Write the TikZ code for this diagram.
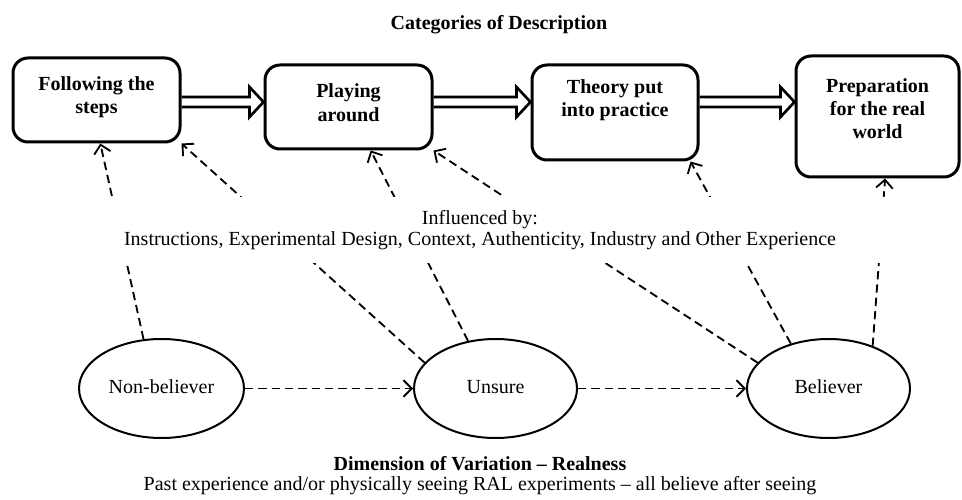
\documentclass[tikz,border=0pt]{standalone}
\usepackage{fontspec}
\setmainfont{Liberation Serif}
\usetikzlibrary{arrows.meta,calc,shapes.geometric}

% hollow block arrow from #1 to #2
\newcommand{\blockarrow}[2]{%
  \draw[hollow] ($(#1)+(0,5)$) -- ($(#2)+(-14,5)$) -- ($(#2)+(-14,15)$) -- (#2)
    -- ($(#2)+(-14,-15)$) -- ($(#2)+(-14,-5)$) -- ($(#1)+(0,-5)$);}

\begin{document}
\begin{tikzpicture}[x=0.6pt,y=-0.6pt,
>={Straight Barb[length=5pt,width=10pt,line width=1.1pt]},
category/.style={draw,line width=1.8pt,rounded corners=9pt,align=center,
  font=\bfseries\fontsize{12}{14}\selectfont,inner sep=0pt},
view/.style={draw,ellipse,line width=1.2pt,minimum width=97.8pt,
  minimum height=59.4pt,text height=1.5ex,text depth=0.25ex,
  font=\fontsize{12}{14}\selectfont},
influence/.style={->,line width=1.1pt,dash pattern=on 5pt off 3pt},
hollow/.style={line width=1.6pt,line join=miter}]
\useasboundingbox (0,0) rectangle (962,500);

\node[font=\bfseries\fontsize{12}{14}\selectfont] (cat) at (499,25) {Categories of Description};

% categories
\node[category,minimum width=100.2pt,minimum height=50.4pt,text depth=6.2pt] (steps) at (96.5,100) {Following the\\steps};
\node[category,minimum width=100.2pt,minimum height=50.4pt,text depth=5.4pt] (play) at (348.5,107) {Playing\\around};
\node[category,minimum width=99.6pt,minimum height=57pt,text depth=17.6pt] (theory) at (615,112.5) {Theory put\\into practice};
\node[category,minimum width=97.8pt,minimum height=72.6pt,text depth=9.6pt] (world) at (877.5,116.5) {Preparation\\for the real\\world};

\blockarrow{steps.east |- 0,102}{play.west |- 0,102}
\blockarrow{play.east |- 0,102}{theory.west |- 0,102}
\blockarrow{theory.east |- 0,102}{world.west |- 0,102}

% dimension of variation
\node[view] (nb) at (161.5,388.5) {Non-believer};
\node[view] (un) at (495.5,388.5) {Unsure};
\node[view] (bl) at (828.5,388.5) {Believer};

\draw[influence] (nb) -- (un);
\draw[influence] (un) -- (bl);

\draw[influence] (nb.110) -- (steps.-85);
\draw[influence] (un.160) -- (steps.south east);
\draw[influence] (un.120) -- (play.-63);
\draw[influence] (bl.160) -- (play.south east);
\draw[influence] (bl.130) -- (theory.-33);
\draw[influence] (bl.44) -- (world.-83);

\fill[white] (95,197) rectangle (900,263);
\node[align=center,font=\fontsize{12}{12.5}\selectfont] (infl) at (480,230)
  {Influenced by:\\Instructions, Experimental Design, Context, Authenticity, Industry and Other Experience};

\node[font=\bfseries\fontsize{12}{14}\selectfont] (dim) at (480,464) {Dimension of Variation -- Realness};
\node[font=\fontsize{12}{14}\selectfont] (past) at (480,486) {Past experience and/or physically seeing RAL experiments -- all believe after seeing};
\end{tikzpicture}
\end{document}
